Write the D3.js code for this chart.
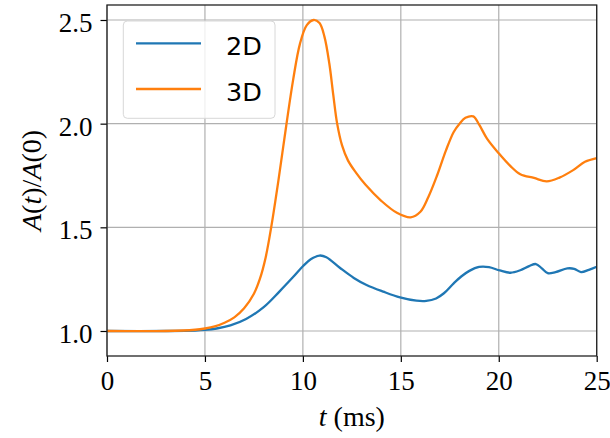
<!DOCTYPE html>
<html>
<head>
<meta charset="utf-8">
<script src="https://cdn.jsdelivr.net/npm/d3@7"></script>
<style>
body { margin: 0; background: #fff; }
.tick text { font-family: "Liberation Serif", serif; font-size: 27px; fill: #000; }
</style>
</head>
<body>
<script>
// t in ms, A(t)/A(0)
var t2D = [0, 3, 4.5, 5, 5.6, 6.3, 7.1, 8.0, 8.8, 9.5, 10.0, 10.4, 10.85, 11.2, 11.9, 12.6, 13.25, 14.1, 14.96, 15.8, 16.3, 16.8, 17.2, 17.7, 18.1, 18.5, 19.0, 19.5, 20.05, 20.6, 21.1, 21.55, 21.9, 22.2, 22.5, 22.9, 23.5, 23.85, 24.2, 24.6, 25];
var a2D = [1.0, 1.0, 1.002, 1.005, 1.012, 1.027, 1.058, 1.115, 1.19, 1.26, 1.312, 1.346, 1.364, 1.356, 1.304, 1.256, 1.222, 1.19, 1.162, 1.146, 1.145, 1.157, 1.182, 1.23, 1.264, 1.29, 1.309, 1.308, 1.292, 1.281, 1.293, 1.313, 1.323, 1.302, 1.279, 1.284, 1.302, 1.3, 1.284, 1.295, 1.31];

var t3D = [0, 3, 4.5, 5, 5.5, 6, 6.5, 7, 7.5, 7.8, 8.1, 8.4, 8.75, 9.15, 9.5, 9.85, 10.2, 10.55, 10.85, 11.1, 11.35, 11.55, 11.75, 12.0, 12.3, 12.7, 13.2, 14.0, 14.8, 15.5, 16.0, 16.4, 16.85, 17.3, 17.7, 18.0, 18.3, 18.7, 19.0, 19.4, 20.0, 20.6, 21.1, 21.8, 22.45, 23.1, 23.8, 24.4, 25];
var a3D = [1.0, 1.0, 1.006, 1.012, 1.022, 1.04, 1.066, 1.11, 1.18, 1.25, 1.355, 1.51, 1.725, 1.99, 2.21, 2.385, 2.475, 2.5, 2.485, 2.42, 2.29, 2.14, 2.0, 1.895, 1.823, 1.765, 1.705, 1.628, 1.57, 1.548, 1.575, 1.645, 1.75, 1.87, 1.96, 2.0, 2.028, 2.035, 1.995, 1.928, 1.857, 1.795, 1.756, 1.738, 1.722, 1.74, 1.776, 1.816, 1.834];

var seriesNames = ["2D", "3D"];
var seriesColors = ["#1f77b4", "#ff7f0e"];
var xTicks = [0, 5, 10, 15, 20, 25];
var yTicks = [1.0, 1.5, 2.0, 2.5];

var margin = {top: 5, right: 13.3, bottom: 82, left: 107},
	width = 610 - margin.left - margin.right,
	height = 438 - margin.top - margin.bottom;

var svg = d3.select("body").append("svg")
	.attr("width", 610)
	.attr("height", 438)
	.append("g")
	.attr("transform", "translate(" + margin.left + "," + margin.top + ")");

var x = d3.scaleLinear().domain([0, 25]).range([0, width]);
var y = d3.scaleLinear().domain([0.8794, 2.5723]).range([height, 0]);

// grid
svg.selectAll(".vgrid").data(xTicks).enter().append("line")
	.attr("x1", function(d) { return x(d); })
	.attr("x2", function(d) { return x(d); })
	.attr("y1", 0).attr("y2", height)
	.style("stroke", "#b0b0b0").style("stroke-width", 1.2);
svg.selectAll(".hgrid").data(yTicks).enter().append("line")
	.attr("x1", 0).attr("x2", width)
	.attr("y1", function(d) { return y(d); })
	.attr("y2", function(d) { return y(d); })
	.style("stroke", "#b0b0b0").style("stroke-width", 1.2);

var line = d3.line()
	.x(function(d) { return x(d[0]); })
	.y(function(d) { return y(d[1]); })
	.curve(d3.curveCatmullRom.alpha(0.5));

var series = [d3.zip(t2D, a2D), d3.zip(t3D, a3D)];
series.forEach(function(s, i) {
	svg.append("path")
		.datum(s)
		.attr("d", line)
		.style("fill", "none")
		.style("stroke", seriesColors[i])
		.style("stroke-width", 2.3)
		.style("stroke-linejoin", "round");
});

// axes
var xAxis = svg.append("g")
	.attr("transform", "translate(0," + height + ")")
	.call(d3.axisBottom(x).tickValues(xTicks).tickSize(6).tickPadding(9).tickFormat(d3.format("d")));
var yAxis = svg.append("g")
	.call(d3.axisLeft(y).tickValues(yTicks).tickSize(6.5).tickPadding(8).tickFormat(d3.format(".1f")));
yAxis.selectAll(".tick text").attr("dy", "0.42em");
[xAxis, yAxis].forEach(function(a) {
	a.select(".domain").remove();
	a.selectAll(".tick line").style("stroke", "#000").style("stroke-width", 1.2);
});

// frame
svg.append("rect")
	.attr("width", width).attr("height", height)
	.style("fill", "none").style("stroke", "#222").style("stroke-width", 1.3);

// legend
var legend = svg.append("g").attr("transform", "translate(16.3,16)");
legend.append("rect")
	.attr("width", 151.7).attr("height", 97.3)
	.attr("rx", 4)
	.style("fill", "#fff").style("fill-opacity", 0.8)
	.style("stroke", "#d8d8d8").style("stroke-width", 1);
seriesNames.forEach(function(name, i) {
	var ly = 22.3 + i * 45.7;
	legend.append("line")
		.attr("x1", 12.7).attr("x2", 77.7)
		.attr("y1", ly).attr("y2", ly)
		.style("stroke", seriesColors[i]).style("stroke-width", 2.3);
	legend.append("text")
		.attr("x", 102.7).attr("y", ly + 11.5)
		.style("font-family", "'DejaVu Sans', sans-serif")
		.style("font-size", "25.5px")
		.text(name);
});

// axis titles
var xt = svg.append("text")
	.attr("x", width / 2).attr("y", height + 70)
	.style("text-anchor", "middle")
	.style("font-family", "'Liberation Serif', serif")
	.style("font-size", "28px");
xt.append("tspan").style("font-style", "italic").text("t");
xt.append("tspan").text(" (ms)");

var yt = svg.append("text")
	.attr("transform", "translate(" + (41 - margin.left) + "," + (height / 2) + ") rotate(-90)")
	.style("text-anchor", "middle")
	.style("font-family", "'Liberation Serif', serif")
	.style("font-size", "28px");
yt.append("tspan").style("font-style", "italic").text("A");
yt.append("tspan").text("(");
yt.append("tspan").style("font-style", "italic").text("t");
yt.append("tspan").text(")/");
yt.append("tspan").style("font-style", "italic").text("A");
yt.append("tspan").text("(0)");
</script>
</body>
</html>
